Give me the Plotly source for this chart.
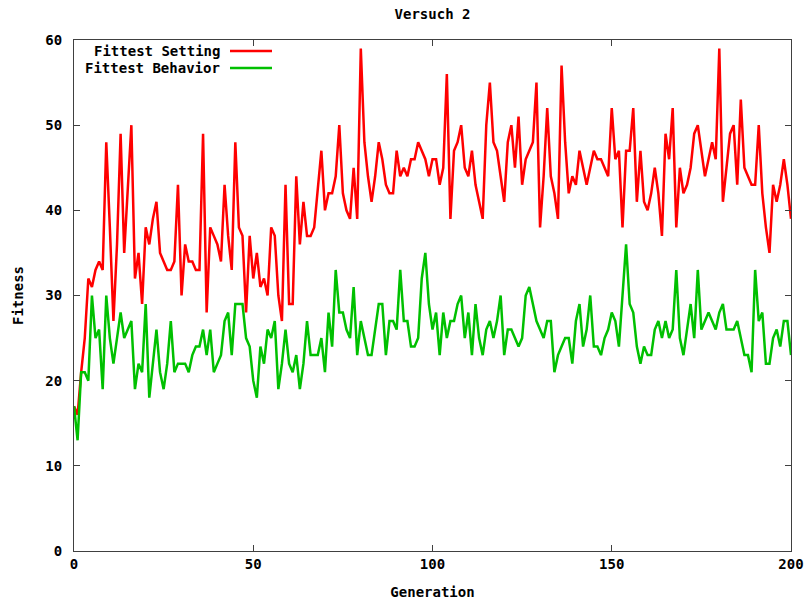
import plotly.graph_objects as go

generations = list(range(201))

fittest_setting = [
    17, 16, 21, 25, 32, 31, 33, 34, 33, 48,
    38, 27, 36, 49, 35, 42, 50, 32, 35, 29,
    38, 36, 39, 41, 35, 34, 33, 33, 34, 43,
    30, 36, 34, 34, 33, 33, 49, 28, 38, 37,
    36, 34, 43, 37, 33, 48, 38, 37, 28, 37,
    32, 35, 31, 32, 30, 38, 37, 30, 27, 43,
    29, 29, 44, 36, 41, 37, 37, 38, 43, 47,
    40, 42, 42, 44, 50, 42, 40, 39, 45, 39,
    59, 48, 44, 41, 44, 48, 46, 43, 42, 42,
    47, 44, 45, 44, 46, 46, 48, 47, 46, 44,
    46, 46, 43, 45, 56, 39, 47, 48, 50, 45,
    44, 47, 43, 41, 39, 50, 55, 48, 47, 44,
    41, 48, 50, 45, 51, 43, 46, 47, 48, 55,
    38, 44, 52, 44, 42, 39, 57, 48, 42, 44,
    43, 47, 45, 43, 45, 47, 46, 46, 45, 44,
    52, 46, 47, 38, 47, 47, 52, 41, 47, 41,
    40, 42, 45, 42, 37, 49, 46, 52, 38, 45,
    42, 43, 45, 49, 50, 47, 44, 46, 48, 46,
    59, 41, 45, 49, 50, 43, 53, 45, 44, 43,
    43, 50, 42, 38, 35, 43, 41, 43, 46, 43,
    39,
]

fittest_behavior = [
    17, 13, 21, 21, 20, 30, 25, 26, 19, 30,
    25, 22, 25, 28, 25, 26, 27, 19, 22, 21,
    29, 18, 22, 26, 21, 19, 22, 27, 21, 22,
    22, 22, 21, 23, 24, 24, 26, 23, 26, 21,
    22, 23, 27, 28, 23, 29, 29, 29, 25, 24,
    20, 18, 24, 22, 26, 25, 27, 19, 22, 26,
    22, 21, 23, 19, 22, 27, 23, 23, 23, 25,
    21, 28, 24, 33, 28, 28, 26, 25, 31, 23,
    27, 25, 23, 23, 26, 29, 29, 23, 27, 27,
    26, 33, 27, 27, 24, 24, 25, 32, 35, 29,
    26, 28, 23, 28, 25, 27, 27, 29, 30, 25,
    28, 23, 29, 25, 23, 26, 27, 25, 27, 30,
    23, 26, 26, 25, 24, 25, 30, 31, 29, 27,
    26, 25, 27, 27, 21, 23, 24, 25, 25, 22,
    27, 29, 24, 26, 30, 24, 24, 23, 25, 26,
    28, 27, 24, 30, 36, 29, 28, 24, 22, 24,
    23, 23, 26, 27, 25, 27, 25, 26, 33, 25,
    23, 26, 29, 25, 33, 26, 27, 28, 27, 26,
    28, 29, 26, 26, 26, 27, 25, 23, 23, 21,
    33, 27, 28, 22, 22, 25, 26, 24, 27, 27,
    23,
]

series_names = ["Fittest Setting", "Fittest Behavior"]
series_colors = ["#ff0000", "#00c000"]

FONT = "DejaVu Sans Mono"
FSIZE = 14
font_main = dict(family=FONT, size=FSIZE, color="#000000", weight="bold")

fig = go.Figure()
for name, ys, col in zip(series_names, [fittest_setting, fittest_behavior], series_colors):
    fig.add_trace(go.Scatter(x=generations, y=ys, mode="lines", name=name,
                             line=dict(color=col, width=2.5), showlegend=False))

L, R, T, B = 74, 17, 40, 49
W, H = 808, 600
pw, ph = W - L - R, H - T - B

def px_x(px):
    return (px - L) / pw

def px_y(py):
    return (H - B - py) / ph

# gnuplot-style legend: text left, line sample right
legend_rows = [51, 68]
for name, col, py in zip(series_names, series_colors, legend_rows):
    fig.add_annotation(xref="paper", yref="paper", x=px_x(222), y=px_y(py),
                       text=name, showarrow=False, xanchor="right", yanchor="middle",
                       font=font_main)
    fig.add_shape(type="line", xref="paper", yref="paper",
                  x0=px_x(230), x1=px_x(272), y0=px_y(py), y1=px_y(py),
                  line=dict(color=col, width=2.5))

axis_common = dict(showline=True, linecolor="#404040", linewidth=1, mirror="ticks",
                   ticks="inside", ticklen=6, tickcolor="#404040", showgrid=False,
                   zeroline=False, automargin=False, tickfont=font_main)

fig.update_layout(
    width=W, height=H,
    margin=dict(l=L, r=R, t=T, b=B),
    plot_bgcolor="white", paper_bgcolor="white",
    title=dict(text="Versuch 2", x=(L + pw / 2) / W, xanchor="center",
               y=1 - 14 / H, yanchor="middle", yref="container",
               font=font_main),
    xaxis=dict(range=[0, 200], tick0=0, dtick=50,
               title=dict(text="Generation", standoff=16, font=font_main),
               **axis_common),
    yaxis=dict(range=[0, 60], tick0=0, dtick=10, ticklabelstandoff=8,
               title=dict(text="Fitness", standoff=18, font=font_main),
               **axis_common),
)

fig.write_html("out.html")
